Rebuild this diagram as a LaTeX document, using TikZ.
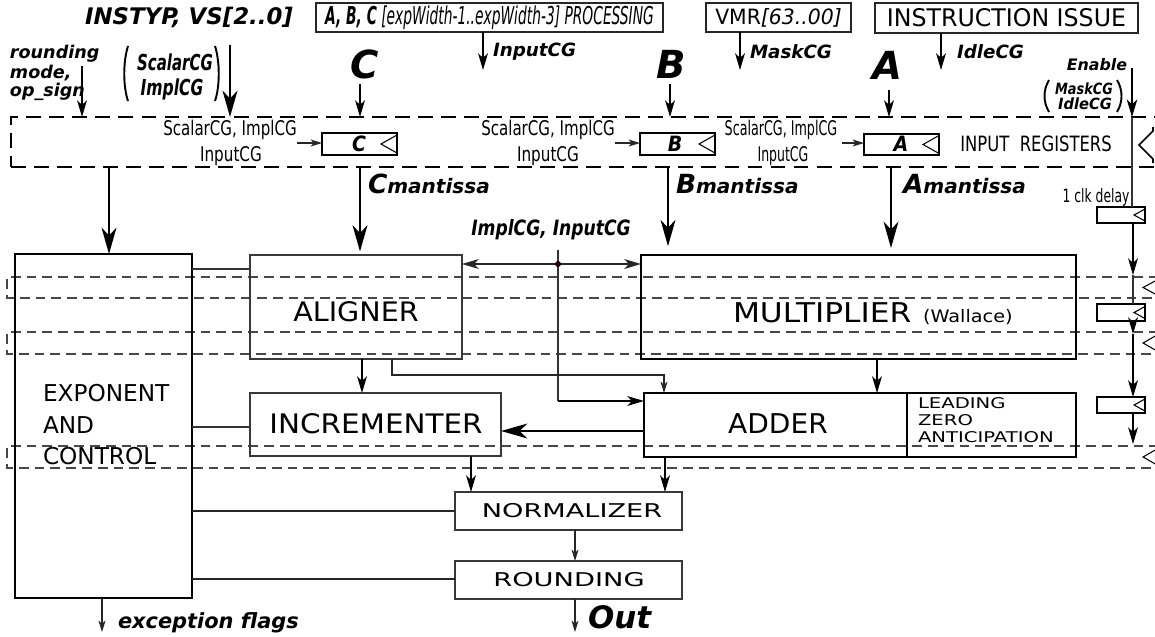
\documentclass[tikz,border=0pt]{standalone}
\usepackage{fontspec}
\usepackage{graphicx}
\setmainfont{DejaVu Sans}[BoldFont={* Bold},ItalicFont={* Oblique},BoldItalicFont={* Bold Oblique}]
\newfontfamily\cfont{DejaVu Sans Condensed}[BoldFont={* Bold},ItalicFont={* Oblique},BoldItalicFont={* Bold Oblique}]
\usetikzlibrary{arrows.meta,fit}
\newlength\pxu
\setlength\pxu{0.56693pt}
\newcommand\fsz[1]{\fontsize{#1}{#1}\selectfont}
\newcommand\bfit{\bfseries\itshape}
\newcommand\fitx[2]{\resizebox{#1\pxu}{\height}{#2}}
\begin{document}
\begin{tikzpicture}[x=0.02cm,y=-0.02cm,
  txt/.style={inner sep=0pt,outer sep=0pt},
  frame/.style={draw=black!85,line width=0.75pt,inner sep=0pt,outer sep=0pt},
  blkthin/.style={draw=black!78,line width=0.75pt,inner sep=0pt,outer sep=0pt},
  blkthick/.style={draw=black,line width=1.2pt,inner sep=0pt,outer sep=0pt},
  regbox/.style={draw=black,line width=1.1pt,inner sep=0pt,outer sep=0pt},
  stage/.style={draw=black!72,line width=0.7pt,dash pattern=on 5.6pt off 3.4pt},
  inregline/.style={draw=black,line width=1.1pt,dash pattern=on 8.5pt off 4.6pt,inner sep=0pt,outer sep=0pt},
  wire/.style={draw=black!80,line width=0.6pt},
  heavywire/.style={draw=black!85,line width=0.95pt},
  bigarr/.style={draw=black,line width=1.1pt,-{Stealth[length=15pt,width=8.5pt,inset=4.5pt]}},
  medarr/.style={draw=black,line width=0.8pt,-{Stealth[length=9.5pt,width=5.6pt,inset=2.6pt]}},
  smallarr/.style={draw=black!85,line width=0.6pt,-{Stealth[length=6.5pt,width=4pt,inset=1.8pt]}},
  bothmed/.style={draw=black!85,line width=0.7pt,{Stealth[length=9.5pt,width=5.6pt,inset=2.6pt]}-{Stealth[length=9.5pt,width=5.6pt,inset=2.6pt]}},
  paren/.style={draw=black,line width=1.1pt},
  clk/.style={draw=black,line width=0.6pt},
]
\clip (0,0) rectangle (1155,636);

% ---------------- sources along the top
\node[txt] (instyp) at (189,17) {\bfit\fsz{13}INSTYP, VS[2..0]};
\node[frame,fit={(316,3) (663,32)}] (abcbox) {};
\node[txt] at (abcbox.center) {\fitx{330}{\cfont\fsz{14}{\bfit A, B, C} {\itshape [expWidth-1..expWidth-3] PROCESSING}}};
\node[frame,fit={(706,3) (851,32)}] (vmrbox) {};
\node[txt] at (vmrbox.center) {\fitx{127}{\fsz{12}VMR{\itshape[63..00]}}};
\node[frame,fit={(875,3) (1138,33)}] (issuebox) {};
\node[txt] at (issuebox.center) {\fitx{240}{\fsz{13.8}INSTRUCTION ISSUE}};

\coordinate (pinInput) at (483,70);
\coordinate (pinMask) at (740,70);
\coordinate (pinIdle) at (941,70);
\draw[medarr] (abcbox.south -| pinInput) -- (pinInput);
\draw[medarr] (vmrbox.south -| pinMask) -- (pinMask);
\draw[medarr] (issuebox.south -| pinIdle) -- (pinIdle);
\node[txt,anchor=west] at (493,52) {\bfit\fsz{10.4}InputCG};
\node[txt,anchor=west] at (750,52) {\bfit\fsz{10.4}MaskCG};
\node[txt,anchor=west] at (957,52) {\bfit\fsz{10.4}IdleCG};

% ---------------- input register band
\node[inregline,fit={(11,117) (1175,167)}] (inreg) {};

\node[txt] (letC) at (365,64) {\bfit\fsz{22}C};
\node[txt] (letB) at (671,64) {\bfit\fsz{22}B};
\node[txt] (letA) at (887,65) {\bfit\fsz{22}A};
\coordinate (pinC) at (360,84);
\coordinate (pinB) at (670,84);
\coordinate (pinA) at (889,90);
\draw[medarr] (pinC) -- (pinC |- inreg.north);
\draw[medarr] (pinB) -- (pinB |- inreg.north);
\draw[medarr] (pinA) -- (pinA |- inreg.north);

% rounding mode and instruction type inputs
\node[txt,anchor=west] at (10,54) {\bfit\fsz{10}rounding};
\node[txt,anchor=west] at (10,73) {\bfit\fsz{10}mode,};
\node[txt,anchor=west] at (10,92) {\bfit\fsz{10}op\_sign};
\coordinate (pinRnd) at (82,66);
\draw[medarr] (pinRnd) -- (pinRnd |- inreg.north);
\node[txt] at (175,62) {\cfont\bfit\fsz{12.5}\fitx{76}{ScalarCG}};
\node[txt] at (172,89) {\cfont\bfit\fsz{12.5}\fitx{63}{ImplCG}};
\draw[paren] (128,46) .. controls (123,62) and (123,86) .. (128,101);
\draw[paren] (215,46) .. controls (220,62) and (220,86) .. (215,101);
\coordinate (pinType) at (230,45);
\draw[bigarr] (pinType) -- (pinType |- inreg.north);

% enable chain
\node[txt,anchor=east] at (1127,65) {\bfit\fsz{9}Enable};
\node[txt] at (1084,89) {\bfit\fsz{8.8}\fitx{58}{MaskCG}};
\node[txt] at (1085,104) {\bfit\fsz{8.8}\fitx{54}{IdleCG}};
\draw[paren] (1049,80) .. controls (1043,90) and (1043,102) .. (1049,112);
\draw[paren] (1117,80) .. controls (1123,90) and (1123,102) .. (1117,112);
\coordinate (pinEn) at (1132,68);
\draw[draw=black,line width=0.9pt,-{Stealth[length=10pt,width=6pt,inset=2.8pt]}] (pinEn) -- (pinEn |- inreg.north);

% the three operand registers
\node[regbox,fit={(322,133) (397,155)}] (regC) {};
\node[regbox,fit={(640,133) (715,155)}] (regB) {};
\node[regbox,fit={(864,134) (939,155)}] (regA) {};
\node[txt] at (359,144) {\cfont\bfit\fsz{12}C};
\node[txt] at (675,144) {\cfont\bfit\fsz{12}B};
\node[txt] at (901,144) {\cfont\bfit\fsz{12}A};
\draw[clk] (regC.east) +(0,-9) -- +(-16,0) -- +(0,9);
\draw[clk] (regB.east) +(0,-9) -- +(-16,0) -- +(0,9);
\draw[clk] (regA.east) +(0,-9) -- +(-16,0) -- +(0,9);

\node[txt] at (230,130) {\cfont\fsz{11.5}\fitx{134}{ScalarCG, ImplCG}};
\node[txt] at (231,156) {\cfont\fsz{11.5}\fitx{62}{InputCG}};
\node[txt] at (548,130) {\cfont\fsz{11.5}\fitx{134}{ScalarCG, ImplCG}};
\node[txt] at (548,156) {\cfont\fsz{11.5}\fitx{62}{InputCG}};
\node[txt] at (781,130) {\cfont\fsz{11.5}\fitx{113}{ScalarCG, ImplCG}};
\node[txt] at (783,156) {\cfont\fsz{11.5}\fitx{51}{InputCG}};
\coordinate (cgC) at (297,143);
\coordinate (cgB) at (615,143);
\coordinate (cgA) at (842,143);
\draw[smallarr] (cgC) -- (cgC -| regC.west);
\draw[smallarr] (cgB) -- (cgB -| regB.west);
\draw[smallarr] (cgA) -- (cgA -| regA.west);

\node[txt] at (1036,144) {\fsz{12}\fitx{152}{INPUT\ \ REGISTERS}};
\draw[draw=black,line width=0.9pt] (1153,127) -- (1153,131) -- (1139,145) -- (1153,159) -- (1153,163);

% ---------------- pipeline stage registers
\foreach \ya/\yb in {277/298, 332/354, 446/468} {
  \draw[stage] (1175,\ya) -- (7,\ya) -- (7,\yb) -- (1175,\yb);
  \draw[clk] (1157,\ya+3) -- (1143,{(\ya+\yb)/2}) -- (1157,\yb-3);
}

% ---------------- datapath blocks
\node[blkthick,line width=1.3pt,fit={(15,254) (192,598)}] (expo) {};
\node[txt,anchor=west] at (43,393) {\fsz{13.2}EXPONENT};
\node[txt,anchor=west] at (43,425) {\fsz{13.2}AND};
\node[txt,anchor=west] at (43,456) {\fsz{13.2}CONTROL};

\node[blkthin,fit={(250,255) (462,359)}] (aligner) {};
\node[txt] at (356,312) {\fsz{15.3}\fitx{126}{ALIGNER}};
\node[blkthin,fit={(250,393) (501,456)}] (increm) {};
\node[txt] at (376,424) {\fsz{15.3}\fitx{214}{INCREMENTER}};
\node[blkthick,fit={(641,255) (1076,359)}] (mult) {};
\node[txt,anchor=base west] at (733,322) {\fsz{15.5}\fitx{179}{MULTIPLIER}};
\node[txt,anchor=base west] at (923,322) {\fsz{9.8}\fitx{90}{(Wallace)}};
\node[blkthick,line width=0.95pt,fit={(644,393) (1076,457)}] (adder) {};
\coordinate (lzasplit) at (907,0);
\draw[draw=black,line width=0.8pt] (adder.north -| lzasplit) -- (adder.south -| lzasplit);
\node[txt] at (778,424) {\fsz{15.5}\fitx{100}{ADDER}};
\node[txt,anchor=west] at (918,403) {\fsz{8.4}\scalebox{1.33}[1]{LEADING}};
\node[txt,anchor=west] at (918,420) {\fsz{8.4}\scalebox{1.33}[1]{ZERO}};
\node[txt,anchor=west] at (918,437) {\fsz{8.4}\scalebox{1.33}[1]{ANTICIPATION}};
\node[blkthin,fit={(455,492) (682,530)}] (norm) {};
\node[txt] at (572,511) {\fsz{10.8}\fitx{181}{NORMALIZER}};
\node[blkthin,fit={(455,561) (682,599)}] (rnd) {};
\node[txt] at (569,580) {\fsz{10.8}\fitx{152}{ROUNDING}};

% ---------------- mantissa inputs
\coordinate (xexp) at (109,0);
\coordinate (xcm) at (360,0);
\coordinate (xbm) at (668,0);
\coordinate (xam) at (891,0);
\draw[bigarr] (inreg.south -| xexp) -- (expo.north -| xexp);
\draw[bigarr] (inreg.south -| xcm) -- ([yshift=2pt]aligner.north -| xcm);
\draw[bigarr] (inreg.south -| xbm) -- ([yshift=5pt]mult.north -| xbm);
\draw[bigarr] (inreg.south -| xam) -- ([yshift=4pt]mult.north -| xam);
\node[txt,anchor=base west] at (368,193) {\bfit{\fsz{15}C}{\fsz{11.4}mantissa}};
\node[txt,anchor=base west] at (676,193) {\bfit{\fsz{15}B}{\fsz{11.4}mantissa}};
\node[txt,anchor=base west] at (903,193) {\bfit{\fsz{15}A}{\fsz{11.4}mantissa}};

% ---------------- clock-gating distribution
\node[txt] at (551,230) {\cfont\bfit\fsz{12}\fitx{160}{ImplCG, InputCG}};
\coordinate (cgtop) at (558,250);
\coordinate (cgdot) at (558,264);
\coordinate (cgturn) at (558,401);
\draw[wire] (cgtop) -- (cgturn);
\draw[medarr,line width=0.7pt] (cgturn) -- (cgturn -| adder.west);
\draw[bothmed] (aligner.east |- cgdot) -- (mult.west |- cgdot);
\fill[black!60!red!40!black] (cgdot) circle[radius=1.7pt];

% ---------------- datapath connections
\coordinate (yal) at (0,269);
\coordinate (yin) at (0,427);
\coordinate (yno) at (0,511);
\coordinate (yro) at (0,579);
\draw[wire] (expo.east |- yal) -- (aligner.west |- yal);
\draw[wire,line width=0.75pt] (expo.east |- yin) -- (increm.west |- yin);
\draw[heavywire] (expo.east |- yno) -- (norm.west |- yno);
\draw[heavywire] (expo.east |- yro) -- (rnd.west |- yro);

\coordinate (xai) at (362,0);
\draw[medarr,line width=0.7pt] (aligner.south -| xai) -- (increm.north -| xai);
\coordinate (xaa) at (392,0);
\coordinate (xad) at (664,0);
\coordinate (yaa) at (0,375);
\draw[smallarr] (aligner.south -| xaa) -- (xaa |- yaa) -- (xad |- yaa) -- (adder.north -| xad);
\coordinate (xma) at (877,0);
\draw[medarr,line width=0.7pt] (mult.south -| xma) -- (adder.north -| xma);
\coordinate (yai) at (0,431);
\draw[bigarr] (adder.west |- yai) -- (increm.east |- yai);
\coordinate (xin) at (471,0);
\coordinate (xan) at (665,0);
\draw[medarr,line width=0.7pt] (increm.south -| xin) -- (norm.north -| xin);
\draw[medarr,line width=0.7pt] (adder.south -| xan) -- (norm.north -| xan);
\coordinate (xnr) at (575,0);
\draw[smallarr] (norm.south -| xnr) -- (rnd.north -| xnr);

% ---------------- outputs
\coordinate (outend) at (575,632);
\coordinate (flagend) at (102,632);
\draw[smallarr] (rnd.south -| outend) -- (outend);
\draw[smallarr] (expo.south -| flagend) -- (flagend);
\node[txt,anchor=base west] at (588,628) {\bfit\fsz{17.6}Out};
\node[txt,anchor=base west] at (118,628) {\bfit\fsz{11.9}exception flags};

% ---------------- enable delay line
\node[regbox,line width=0.8pt,fit={(1097,207) (1145,223)}] (dly1) {};
\node[regbox,line width=0.8pt,fit={(1097,304) (1145,321)}] (dly2) {};
\node[regbox,line width=0.8pt,fit={(1097,397) (1145,413)}] (dly3) {};
\draw[clk] (dly1.east) +(0,-6) -- +(-11,0) -- +(0,6);
\draw[clk] (dly2.east) +(0,-6) -- +(-11,0) -- +(0,6);
\draw[clk] (dly3.east) +(0,-6) -- +(-11,0) -- +(0,6);
\node[txt] at (1096,197) {\cfont\fsz{10.5}\fitx{67}{1 clk delay}};
\coordinate (xen) at (1133,0);
\coordinate (st1) at (1133,275);
\coordinate (st2) at (1133,334);
\coordinate (st3) at (1133,444);
\draw[wire] (inreg.north -| pinEn) -- (dly1.north -| pinEn);
\draw[medarr,line width=0.6pt] (dly1.south -| xen) -- (st1);
\draw[wire] (st1) -- (dly2.north -| xen);
\draw[medarr,line width=0.6pt] (dly2.south -| xen) -- (st2);
\draw[medarr,line width=0.6pt] (st2) -- (dly3.north -| xen);
\draw[medarr,line width=0.6pt] (dly3.south -| xen) -- (st3);
\end{tikzpicture}
\end{document}
